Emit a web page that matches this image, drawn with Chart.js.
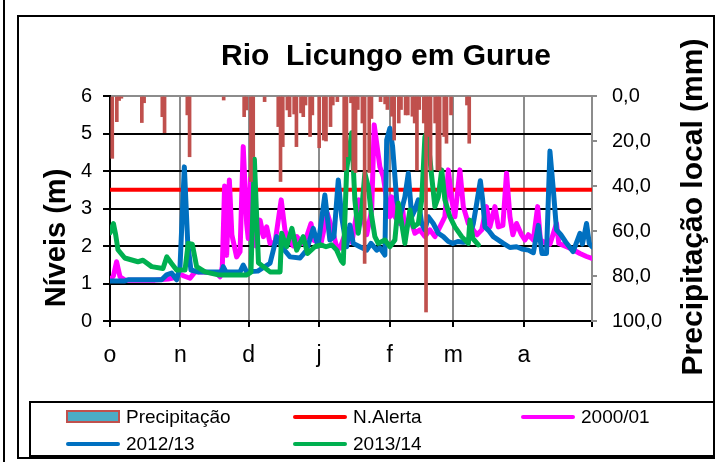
<!DOCTYPE html>
<html>
<head>
<meta charset="utf-8">
<title>Rio Licungo em Gurue</title>
<script src="https://cdn.jsdelivr.net/npm/chart.js@4.4.1/dist/chart.umd.min.js"></script>
<style>
  body { margin: 0; background: #fff; font-family: "Liberation Sans", Arial, sans-serif; }
  #wrap { position: relative; width: 715px; height: 462px; overflow: hidden; }
  #chart { position: absolute; left: 0; top: 0; }
  .frameOuter { position: absolute; left: 3px; top: 0; width: 2px; height: 462px; background: #000; }
  .frameInner { position: absolute; left: 17px; top: 15px; width: 694px; height: 440px; border: 2px solid #000; }
  #legend { position: absolute; left: 29px; top: 401px; width: 680px; height: 52px; border: 2px solid #000;
            display: grid; grid-template-columns: 227px 228px auto; grid-auto-rows: 27px;
            padding-left: 35px; box-sizing: content-box; font-size: 19px; color: #000; }
  #legend .item { display: flex; align-items: center; white-space: nowrap; }
  #legend .line { width: 54px; height: 4px; border-radius: 2px; margin-right: 6px; }
  #legend .box { width: 50px; height: 9px; margin-right: 6px; }
</style>
</head>
<body>
<div id="wrap">
  <canvas id="chart" width="715" height="462"></canvas>
  <div class="frameOuter"></div>
  <div class="frameInner"></div>
  <div id="legend"></div>
</div>
<script>
// Rio Licungo em Gurue - niveis (m) + precipitacao local (mm), Out -> Abr
const FONT = '"Liberation Sans", Arial, sans-serif';

const chartTitle = "Rio  Licungo em Gurue";
const yTitle = "Níveis (m)";
const y2Title = "Precipitação local (mm)";

// x axis: day index from 1 Oct, month starts
const monthLabels = ["o", "n", "d", "j", "f", "m", "a", ""];
const monthStartDays = [0, 31, 61, 92, 123, 151, 182, 212];

const alertLevel = 3.5;

// precipitation (mm), hanging bars on right axis
const precipDays = [1,3,4,5,14,15,23,24,34,35,50,59,60,62,63,68,74,75,76,78,79,81,82,84,85,86,88,89,92,94,95,97,98,100,103,104,106,107,108,109,111,112,114,115,119,121,122,124,125,127,128,130,131,133,134,135,136,138,139,140,141,143,144,145,147,148,150,157,158];
const precipMm = [27.7,11.4,2,1,11.8,3,9.2,16.3,8.4,27,1.8,9.2,6.2,38,27,2.5,13.6,38,22.5,6.2,9.2,8,22.5,7.5,9.2,4,18,8.4,23,19.6,20,13.6,4,2.5,33,27,3,33,34,6,12,74.4,34,10,2.5,3.5,6,9,19.6,12,6,8.4,8.4,9,12,33,6,12,96,18,33,12,33,33,18,21,8.4,4,21];

// 2000/01
const days0001 = [0,1.5,2.9,4.4,6.6,19.8,25.6,28.6,30.8,32.5,35.2,37.4,40.3,46.9,48.4,49.4,50.4,51.3,52.5,53.6,55.7,57.2,58.6,60.1,60.8,61.8,62.9,64.2,66,67.5,68.9,70.4,72.6,75.3,77,78.7,80.6,82.2,84.4,86.5,88.4,89.7,92.8,95.6,97.2,99.7,101.1,104.1,106.4,109.5,110.8,112.9,115.1,116.2,117.3,118.7,120.2,121.7,123.1,123.9,125.3,127.5,128.6,129.7,131.9,134.1,136.3,138.5,140.7,142.9,145.1,147.3,148.8,150.3,151.7,153.9,155.4,157.6,159.8,161.4,163.5,165.6,167.1,169.3,170.8,172.8,174.4,175.9,177.2,178.8,181,182.5,184,186.2,188.1,189.3,192,193.5,196.4,197.4,200.8,203.7,206.7,209.6,212];
const niveis0001 = [1.09,1.2,1.58,1.18,1.09,1.09,1.12,1.16,1.25,1.2,1.14,1.31,1.31,1.27,1.18,1.45,3.6,1.75,3.76,2.3,1.71,1.85,4.65,2.6,2.2,3.8,2.25,2.0,2.69,2.25,2.51,2.07,2.1,3.23,2.4,2.2,2.0,2.25,2.07,2.25,2.6,2.15,2.07,2.87,2.55,1.98,1.94,2.43,2.1,3.23,2.96,2.3,2.96,5.23,4.74,4.11,3.85,3.23,2.78,3.31,2.78,2.6,3.05,2.43,2.78,2.34,2.43,2.25,2.43,2.25,2.51,2.78,4.03,3.23,2.78,4.03,3.05,2.6,2.43,2.3,2.43,3.05,2.51,3.05,2.51,2.55,3.94,2.78,2.3,2.6,2.3,2.16,2.3,2.16,3.05,2.16,2.07,2.05,2.6,2.07,1.98,1.9,1.8,1.72,1.67];

// 2012/13
const days1213 = [0,6.6,8,22.7,24.9,27.1,29.3,30.8,32.7,34.2,35.6,38.8,49.1,49.8,51,57.2,58.6,60.1,65,70.4,73.3,75.5,79.2,83.6,86.5,89.4,91.5,94.5,96.7,98.5,100.4,101.9,102.6,104.1,105.5,107,109.9,112.9,114.8,117.3,118.7,120.9,121.7,123.1,124.3,126.1,127.5,129.7,131.2,132.7,134.1,135.6,137.1,138.5,140,142.2,144.4,146.6,148.8,150.8,153,155.4,157.6,159.8,161.3,162.9,163.9,164.9,166.7,168.6,173,175.9,178.8,181.2,184,186.2,188.4,190,192,193.5,195,196.4,198.3,200.5,203.7,206.7,207.8,209.6,210.8,212];
const niveis1213 = [1.07,1.07,1.1,1.1,1.23,1.28,1.1,1.45,4.11,2.07,1.36,1.31,1.31,1.45,1.31,1.31,1.49,1.31,1.33,1.54,2.25,1.98,1.71,1.68,1.89,2.47,2.0,3.36,2.16,2.25,3.76,2.78,2.51,1.98,2.56,2.07,1.98,1.89,2.07,1.89,1.95,1.76,4.83,5.14,4.65,3.23,2.78,3.31,3.94,2.78,2.96,3.23,2.6,2.43,2.78,2.6,2.34,2.25,2.12,2.07,2.12,2.1,2.12,2.6,3.14,3.74,3.23,2.51,2.4,2.25,2.07,1.96,1.98,1.92,1.89,1.82,2.55,1.8,1.8,4.53,3.49,2.43,2.3,2.1,1.85,2.34,2.05,2.6,2.07,1.98];

// 2013/14
const days1314 = [0,1.5,2.5,3.5,6.5,12.3,14.5,18.3,23.3,25,27,29.3,33,34.4,36.2,38.1,41.8,47.6,60.2,62,63.5,65.3,70.4,74.8,75.5,77.7,80,82.1,85,86.9,90.1,92.8,95,97.5,99.7,101.8,102.6,104.1,106.3,107.7,109.2,110.7,112.1,113.6,115.1,116.5,118,120.9,123.1,125.3,126.8,128.3,129.7,131.9,133.4,135.6,137.1,138.5,139.5,141.5,142.9,144.4,145.9,147.3,149.5,151.7,154.7,157.6,158.3,159.6,162];
const niveis1314 = [2.35,2.6,2.3,1.9,1.68,1.58,1.62,1.45,1.4,1.71,1.54,1.36,1.36,2.07,2.05,1.45,1.31,1.23,1.23,1.3,4.32,1.55,1.31,1.31,2.34,1.98,2.47,1.89,2.25,1.8,1.98,2.03,1.98,2.03,1.89,1.6,1.54,4.05,5.02,3.23,2.34,2.96,3.94,3.58,2.78,2.25,2.07,2.16,1.98,2.16,3.14,2.6,2.07,2.96,2.51,2.6,3.23,4.91,5.05,3.85,3.05,3.31,4.03,3.23,2.78,2.51,2.25,2.07,2.69,2.2,2.03];

const GRAY = "#8c8c8c";
const BROWN = "#C0504D";
const CYAN = "#4BACC6";

const pts = (xs, ys) => xs.map((x, i) => ({ x: x, y: ys[i] }));

function lineSet(label, xs, ys, color, order, width){
  return {
    type: "line", label: label, data: pts(xs, ys), yAxisID: "y",
    borderColor: color, backgroundColor: color, borderWidth: width || 5,
    pointRadius: 0, tension: 0, borderJoinStyle: "round", borderCapStyle: "round",
    order: order
  };
}

const datasets = [
  { type: "bar", label: "Precipitação", data: pts(precipDays, precipMm), yAxisID: "y2",
    backgroundColor: BROWN, borderWidth: 0, barThickness: 3, order: 0,
    legendFill: CYAN, legendStroke: BROWN },
  lineSet("N.Alerta", [0, 212], [alertLevel, alertLevel], "#FF0000", 4, 4),
  lineSet("2000/01", days0001, niveis0001, "#FF00FF", 3),
  lineSet("2012/13", days1213, niveis1213, "#0070C0", 2),
  lineSet("2013/14", days1314, niveis1314, "#00B050", 1),
];

// titles drawn on the canvas (right one reads bottom-to-top like the left one)
const titlesPlugin = {
  id: "titles",
  afterDraw(chart){
    const ctx = chart.ctx;
    ctx.save();
    ctx.fillStyle = "#000";
    ctx.textAlign = "center";
    ctx.textBaseline = "middle";
    ctx.font = "bold 30px " + FONT;
    ctx.fillText(chartTitle, 386, 57);

    ctx.font = "bold 29px " + FONT;
    ctx.translate(57, 238);
    ctx.rotate(-Math.PI / 2);
    ctx.fillText(yTitle, 0, 0);
    ctx.restore();

    ctx.save();
    ctx.fillStyle = "#000";
    ctx.textAlign = "center";
    ctx.textBaseline = "middle";
    ctx.font = "bold 30px " + FONT;
    ctx.translate(694, 207);
    ctx.rotate(-Math.PI / 2);
    ctx.fillText(y2Title, 0, 0);
    ctx.restore();
  }
};

Chart.defaults.font.family = FONT;
Chart.defaults.color = "#000";

new Chart(document.getElementById("chart"), {
  type: "line",
  data: { datasets: datasets },
  options: {
    responsive: false,
    animation: false,
    layout: { padding: { top: 96, left: 0, right: 0, bottom: 0 } },
    plugins: { legend: { display: false }, tooltip: { enabled: false }, title: { display: false } },
    scales: {
      x: {
        type: "linear", min: 0, max: 212, offset: false,
        afterBuildTicks: (s) => { s.ticks = monthStartDays.map(v => ({ value: v })); },
        afterFit: (s) => { s.height = 141; },
        ticks: {
          autoSkip: false, maxRotation: 0, padding: 15, color: "#000",
          font: { size: 23 },
          callback: (v, i) => monthLabels[i]
        },
        grid: {
          offset: false, lineWidth: 2, tickLength: 6, tickColor: "#000",
          color: (c) => (c.tick && c.tick.value === 0) ? "#000" : GRAY
        },
        border: { color: "#000", width: 2 }
      },
      y: {
        position: "left", min: 0, max: 6,
        afterFit: (s) => { s.width = 110; },
        ticks: { stepSize: 1, padding: 11, color: "#000", font: { size: 20 } },
        grid: {
          lineWidth: 2, tickLength: 7, tickColor: "#000",
          color: (c) => (c.tick && c.tick.value === 6) ? GRAY : "#000"
        },
        border: { color: "#000", width: 2 }
      },
      y2: {
        position: "right", min: 0, max: 100, reverse: true,
        afterFit: (s) => { s.width = 123; },
        ticks: {
          stepSize: 20, padding: 15, color: "#000", font: { size: 20 },
          callback: (v) => v.toFixed(1).replace(".", ",")
        },
        grid: { drawOnChartArea: false, lineWidth: 2, tickLength: 5, tickColor: GRAY, color: GRAY },
        border: { color: GRAY, width: 2 }
      }
    }
  },
  plugins: [titlesPlugin]
});

// legend (Excel-style boxed legend, 3 columns)
const legendEl = document.getElementById("legend");
for (const ds of datasets){
  const item = document.createElement("div");
  item.className = "item";
  const sw = document.createElement("span");
  if (ds.type === "bar"){
    sw.className = "box";
    sw.style.background = ds.legendFill;
    sw.style.border = "2px solid " + ds.legendStroke;
  } else {
    sw.className = "line";
    sw.style.background = ds.borderColor;
  }
  item.appendChild(sw);
  item.appendChild(document.createTextNode(ds.label));
  legendEl.appendChild(item);
}
</script>
</body>
</html>
